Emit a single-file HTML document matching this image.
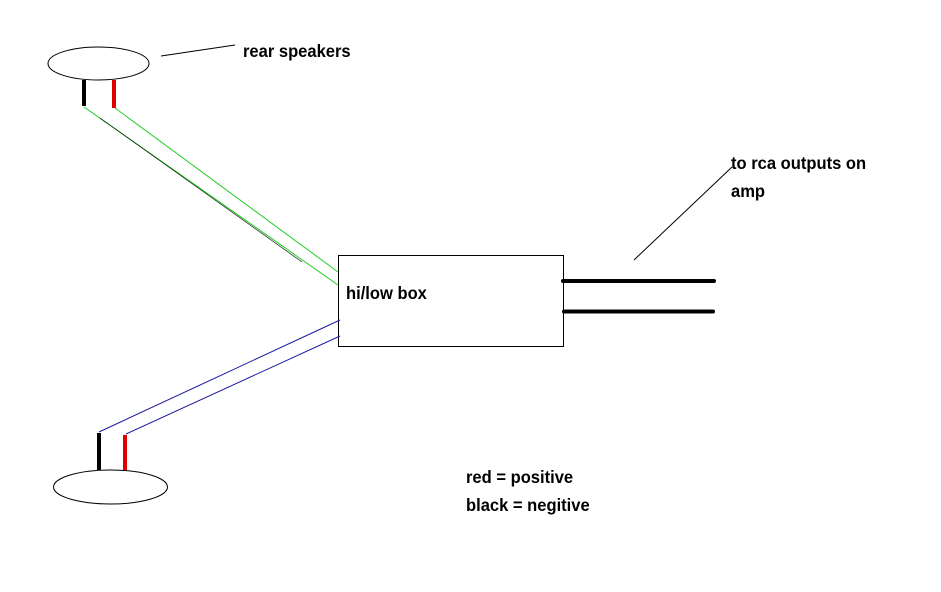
<!DOCTYPE html>
<html><head><meta charset="utf-8"><style>
html,body{margin:0;padding:0;background:#fff;}
svg text{font-family:"Liberation Sans",sans-serif;font-size:18px;font-weight:bold;fill:#000;}
</style></head><body>
<svg width="941" height="587" viewBox="0 0 941 587" xmlns="http://www.w3.org/2000/svg">
<rect width="941" height="587" fill="#fff"/>
<ellipse cx="98.5" cy="63.5" rx="50.5" ry="16.5" fill="none" stroke="#000" stroke-width="1"/>
<line x1="161" y1="56" x2="235" y2="45" stroke="#000" stroke-width="1"/>
<text x="243" y="57" transform="translate(243 0) scale(0.92 1) translate(-243 0)">rear speakers</text>
<line x1="84" y1="80" x2="84" y2="106" stroke="#000" stroke-width="4"/>
<line x1="114" y1="80" x2="114" y2="108" stroke="#e00000" stroke-width="4"/>
<line x1="84" y1="107" x2="338" y2="285" stroke="#22cc22" stroke-width="1"/>
<line x1="115" y1="108" x2="338" y2="272" stroke="#22cc22" stroke-width="1"/>
<line x1="100" y1="118" x2="302" y2="262" stroke="#000" stroke-width="0.6"/>
<rect x="338.5" y="255.5" width="225" height="91" fill="none" stroke="#000" stroke-width="1"/>
<text x="346" y="299" transform="translate(346 0) scale(0.92 1) translate(-346 0)">hi/low box</text>
<line x1="563" y1="281" x2="714" y2="281" stroke="#000" stroke-width="4" stroke-linecap="round"/>
<line x1="564" y1="311.5" x2="713" y2="311.5" stroke="#000" stroke-width="4" stroke-linecap="round"/>
<line x1="634" y1="260" x2="732" y2="167" stroke="#000" stroke-width="1"/>
<text x="731" y="169" transform="translate(731 0) scale(0.92 1) translate(-731 0)">to rca outputs on</text>
<text x="731" y="197" transform="translate(731 0) scale(0.92 1) translate(-731 0)">amp</text>
<line x1="99" y1="432" x2="340" y2="320" stroke="#1a1aa0" stroke-width="1"/>
<line x1="126" y1="434" x2="340" y2="336" stroke="#1a1aa0" stroke-width="1"/>
<line x1="99" y1="433" x2="99" y2="470" stroke="#000" stroke-width="4"/>
<line x1="125" y1="435" x2="125" y2="470" stroke="#e00000" stroke-width="4"/>
<ellipse cx="110.5" cy="487" rx="57" ry="17" fill="none" stroke="#000" stroke-width="1"/>
<text x="466" y="483" transform="translate(466 0) scale(0.92 1) translate(-466 0)">red = positive</text>
<text x="466" y="511" transform="translate(466 0) scale(0.92 1) translate(-466 0)">black = negitive</text>
</svg>
</body></html>
